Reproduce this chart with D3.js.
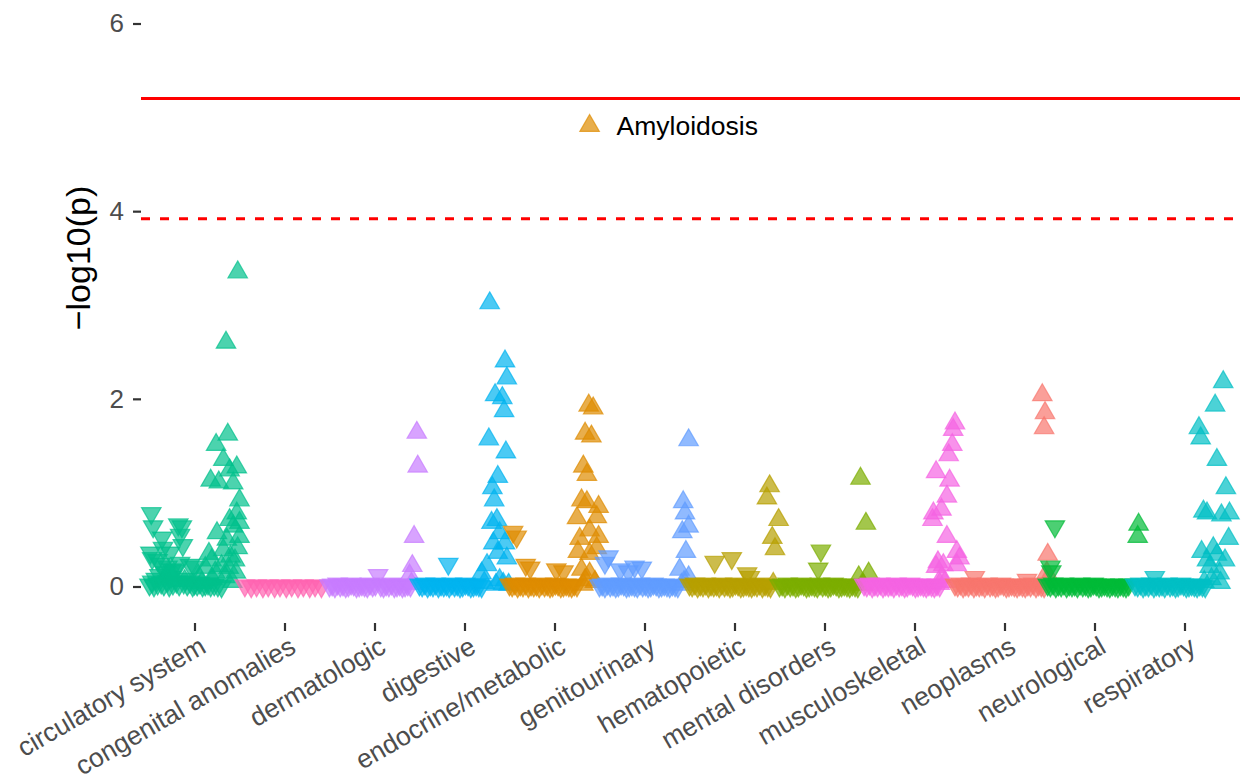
<!DOCTYPE html>
<html>
<head>
<meta charset="utf-8">
<script src="https://cdn.jsdelivr.net/npm/d3@7"></script>
<style>
  body { margin: 0; background: #ffffff; }
  svg { display: block; }
  text { font-family: "Liberation Sans", Arial, Helvetica, sans-serif; }
</style>
</head>
<body>
<svg id="chart" width="1244" height="781"></svg>
<script>
// Phenotype groups, in plotting order
const categories = [
  "circulatory system", "congenital anomalies", "dermatologic", "digestive",
  "endocrine/metabolic", "genitourinary", "hematopoietic", "mental disorders",
  "musculoskeletal", "neoplasms", "neurological", "respiratory"
];
const groupColors = [
  "#00C08B", "#FF64B0", "#C77CFF", "#00B4F0", "#DE8C00", "#619CFF",
  "#B79F00", "#7CAE00", "#F564E3", "#F8766D", "#00BA38", "#00BFC4"
];
const yTicks = [0, 2, 4, 6];

// Significance thresholds on the -log10(p) scale
const bonferroniLine = 5.2;
const suggestiveLine = 3.92;

// Phenotypes: [rank within group (0-100), -log10(p)]
// "Up" = positive association, "Down" = negative association
const circulatoryUp = [[22,0.15],[26,0.12],[39,0.06],[54,0.12],[58,0.04],[62,0.20],[66,0.35],[68,1.13],[69,0.28],[70,0.08],[73,0.15],[74,1.51],[75,0.57],[77,1.11],[80,0.22],[82,1.35],[82,0.39],[84,0.10],[85,2.60],[86,0.50],[87,1.62],[88,0.20],[89,1.24],[89,0.71],[90,0.32],[92,0.05],[93,1.10],[93,0.64],[95,0.28],[96,0.15],[97,1.27],[97,0.78],[98,3.35],[98,0.41],[100,0.92],[100,0.68],[100,0.53]];
const circulatoryDown = [[0,0.02],[1,0.36],[2,0.78],[3,0.30],[3,0.05],[4,0.64],[5,0.01],[7,0.08],[9,0.28],[9,0.03],[11,0.12],[12,0.24],[13,0.04],[14,0.52],[15,0.41],[16,0.02],[18,0.15],[20,0.21],[20,0.06],[22,0.01],[23,0.36],[24,0.10],[25,0.18],[26,0.03],[28,0.17],[30,0.05],[32,0.66],[33,0.02],[34,0.55],[34,0.25],[36,0.64],[37,0.44],[38,0.04],[40,0.08],[42,0.02],[45,0.23],[45,0.05],[48,0.01],[50,0.21],[50,0.03],[53,0.02],[56,0.04],[59,0.01],[62,0.02],[65,0.03],[68,0.01],[72,0.02],[76,0.01],[80,0.00]];

const congenitalUp = [];
const congenitalDown = [[6,0.01],[13,0.00],[19,0.01],[26,0.00],[32,0.01],[39,0.00],[45,0.01],[52,0.00],[58,0.01],[65,0.00],[71,0.01],[78,0.00],[84,0.01],[91,0.00]];

const dermatologicUp = [[89,0.12],[91,0.03],[92,0.22],[94,0.53],[97,1.64],[98,1.28]];
const dermatologicDown = [[0,0.01],[3,0.02],[6,0.00],[9,0.03],[12,0.01],[15,0.02],[18,0.00],[21,0.01],[24,0.03],[27,0.02],[30,0.00],[33,0.01],[36,0.02],[39,0.01],[42,0.00],[45,0.03],[48,0.01],[51,0.02],[54,0.12],[57,0.01],[60,0.00],[63,0.02],[66,0.01],[69,0.03],[72,0.00],[75,0.01],[78,0.02],[81,0.00],[84,0.01],[87,0.02],[90,0.01]];

const digestiveUp = [[69,0.14],[72,0.04],[75,0.23],[77,1.57],[78,3.02],[80,0.68],[81,1.05],[82,0.46],[83,0.92],[84,2.04],[85,0.02],[86,0.71],[87,1.17],[87,0.36],[89,0.57],[89,0.07],[92,2.01],[93,0.03],[94,1.87],[95,2.40],[95,0.46],[96,1.43],[97,2.22],[97,0.30],[99,0.02]];
const digestiveDown = [[0,0.02],[3,0.01],[6,0.03],[9,0.00],[12,0.02],[15,0.01],[18,0.03],[21,0.00],[24,0.02],[27,0.01],[30,0.02],[32,0.24],[33,0.00],[36,0.03],[39,0.01],[42,0.02],[45,0.00],[48,0.01],[51,0.03],[54,0.02],[57,0.00],[60,0.01],[63,0.02],[66,0.01],[69,0.00]];

const endocrineUp = [[75,0.73],[76,0.37],[78,0.51],[80,0.92],[80,0.18],[82,1.28],[82,0.02],[84,1.63],[84,0.07],[86,1.19],[86,0.90],[88,1.93],[89,0.60],[89,0.35],[89,0.14],[91,1.60],[93,1.90],[95,0.05],[97,0.74],[97,0.41],[99,0.85],[99,0.53]];
const endocrineDown = [[0,0.02],[3,0.01],[4,0.58],[6,0.03],[8,0.53],[9,0.00],[12,0.02],[15,0.01],[18,0.23],[18,0.03],[21,0.00],[23,0.20],[24,0.02],[27,0.01],[30,0.02],[33,0.00],[36,0.03],[39,0.01],[42,0.02],[45,0.00],[48,0.01],[51,0.03],[52,0.18],[54,0.02],[57,0.00],[60,0.16],[60,0.01],[63,0.02],[66,0.01],[69,0.00],[72,0.02],[75,0.01]];

const genitourinaryUp = [[89,0.18],[91,0.02],[92,0.58],[93,0.90],[94,0.05],[95,0.78],[96,0.37],[99,1.56],[99,0.64],[99,0.10]];
const genitourinaryDown = [[0,0.01],[3,0.02],[6,0.25],[6,0.00],[9,0.03],[10,0.32],[12,0.01],[15,0.02],[18,0.00],[21,0.01],[23,0.18],[24,0.03],[27,0.02],[30,0.00],[32,0.16],[33,0.01],[36,0.02],[39,0.21],[39,0.01],[42,0.00],[45,0.03],[47,0.20],[48,0.01],[51,0.02],[54,0.00],[57,0.01],[60,0.03],[63,0.02],[66,0.00],[69,0.01],[72,0.02],[75,0.01],[78,0.00],[81,0.02],[84,0.01],[87,0.00]];

const hematopoieticUp = [[86,0.94],[89,1.07],[92,0.52],[93,0.03],[95,0.40],[99,0.71]];
const hematopoieticDown = [[0,0.02],[3,0.01],[6,0.03],[9,0.00],[12,0.02],[15,0.01],[18,0.03],[21,0.00],[24,0.02],[27,0.01],[28,0.26],[30,0.02],[33,0.00],[36,0.03],[39,0.01],[42,0.02],[45,0.00],[47,0.30],[48,0.01],[51,0.03],[54,0.02],[57,0.00],[60,0.01],[63,0.02],[64,0.14],[66,0.01],[67,0.10],[69,0.00],[72,0.02],[75,0.01],[78,0.03],[81,0.00],[84,0.02],[87,0.01],[90,0.00]];

const mentalUp = [[88,0.10],[90,1.15],[93,0.02],[96,0.67],[99,0.14]];
const mentalDown = [[0,0.01],[3,0.02],[6,0.00],[9,0.03],[12,0.01],[15,0.02],[18,0.00],[21,0.01],[24,0.03],[27,0.02],[30,0.00],[33,0.01],[36,0.02],[39,0.01],[42,0.00],[43,0.19],[45,0.03],[46,0.38],[48,0.01],[51,0.02],[54,0.00],[57,0.01],[60,0.03],[63,0.02],[66,0.00],[69,0.01],[72,0.02],[75,0.01],[78,0.00],[81,0.02],[84,0.01],[87,0.00]];

const musculoskeletalUp = [[70,0.71],[71,0.78],[74,1.22],[74,0.21],[76,0.26],[78,0.03],[80,0.82],[80,0.10],[82,0.23],[84,0.05],[86,0.96],[86,0.53],[88,1.40],[89,1.13],[92,1.51],[93,1.67],[95,1.74],[97,0.37],[97,0.23],[100,0.30]];
const musculoskeletalDown = [[-6,0.02],[-3,0.01],[0,0.03],[3,0.00],[6,0.02],[9,0.01],[12,0.03],[15,0.00],[18,0.02],[21,0.01],[24,0.02],[27,0.00],[30,0.03],[33,0.01],[36,0.02],[39,0.00],[42,0.01],[45,0.03],[48,0.02],[51,0.00],[54,0.01],[57,0.02],[60,0.01],[63,0.00],[66,0.02],[69,0.01],[72,0.00],[75,0.02],[78,0.01]];

const neoplasmsUp = [[92,2.04],[94,1.69],[95,1.85],[96,0.05],[97,0.15],[98,0.34]];
const neoplasmsDown = [[-5,0.02],[-2,0.01],[1,0.03],[4,0.00],[7,0.02],[10,0.01],[13,0.03],[16,0.00],[17,0.10],[19,0.02],[22,0.01],[25,0.02],[28,0.00],[31,0.03],[34,0.01],[37,0.02],[40,0.00],[43,0.01],[46,0.03],[49,0.02],[52,0.00],[55,0.01],[58,0.02],[61,0.01],[64,0.00],[67,0.02],[70,0.01],[73,0.00],[75,0.07],[76,0.02],[79,0.01],[82,0.03],[85,0.00],[88,0.02],[91,0.01],[94,0.00]];

const neurologicalUp = [[98,0.53],[99,0.66]];
const neurologicalDown = [[-2,0.02],[1,0.21],[1,0.01],[2,0.16],[4,0.03],[6,0.64],[7,0.00],[10,0.02],[13,0.01],[16,0.03],[19,0.00],[22,0.02],[25,0.01],[28,0.02],[31,0.00],[34,0.03],[37,0.01],[40,0.02],[43,0.00],[46,0.01],[49,0.03],[52,0.02],[55,0.00],[58,0.01],[61,0.02],[64,0.01],[67,0.00],[70,0.02],[73,0.01],[76,0.00],[79,0.02],[82,0.01],[85,0.00],[88,0.02]];

const respiratoryUp = [[66,1.69],[68,1.58],[69,0.37],[71,0.80],[72,0.05],[75,0.78],[75,0.28],[78,0.21],[80,0.08],[82,0.41],[84,1.93],[86,1.35],[86,0.34],[89,0.14],[90,0.04],[91,0.76],[93,2.18],[95,0.28],[96,1.05],[99,0.51],[100,0.78]];
const respiratoryDown = [[-5,0.02],[-2,0.01],[1,0.03],[4,0.00],[7,0.02],[10,0.01],[13,0.03],[16,0.00],[17,0.10],[19,0.02],[22,0.01],[25,0.02],[28,0.00],[31,0.03],[34,0.01],[37,0.02],[40,0.00],[43,0.01],[46,0.03],[49,0.02],[52,0.00],[55,0.01],[58,0.02],[61,0.01],[64,0.00],[67,0.02],[70,0.01],[73,0.00]];

// Labelled phenotype
const annotatedGroup = "endocrine/metabolic";
const annotatedName = "Amyloidosis";
const annotatedRank = 89;
const annotatedValue = 4.91;

// Assemble the per-group table
const upSets = [circulatoryUp, congenitalUp, dermatologicUp, digestiveUp, endocrineUp, genitourinaryUp,
  hematopoieticUp, mentalUp, musculoskeletalUp, neoplasmsUp, neurologicalUp, respiratoryUp];
const downSets = [circulatoryDown, congenitalDown, dermatologicDown, digestiveDown, endocrineDown, genitourinaryDown,
  hematopoieticDown, mentalDown, musculoskeletalDown, neoplasmsDown, neurologicalDown, respiratoryDown];

const points = [];
categories.forEach((name, gi) => {
  downSets[gi].forEach(([rank, v]) => points.push({ gi, rank, v, dir: -1 }));
  upSets[gi].forEach(([rank, v]) => points.push({ gi, rank, v, dir: 1 }));
});
const annotatedIndex = categories.indexOf(annotatedGroup);
points.push({ gi: annotatedIndex, rank: annotatedRank, v: annotatedValue, dir: 1, label: annotatedName });

// Layout
const panel = { left: 141, right: 1240, top: 0, bottom: 622 };
const svg = d3.select("#chart");

const x = d3.scaleLinear().domain([0, categories.length]).range([149.5, 1229.5]);
const y = d3.scaleLinear().domain([0, 6]).range([586.5, 23.5]);
const px = d => x(d.gi + d.rank / 100);

const alpha = (c, a) => { const k = d3.color(c); k.opacity = a; return k.formatRgb(); };

// Threshold lines
svg.append("line")
  .attr("x1", panel.left).attr("x2", panel.right)
  .attr("y1", y(bonferroniLine)).attr("y2", y(bonferroniLine))
  .attr("stroke", "#FF0000").attr("stroke-width", 3);
svg.append("line")
  .attr("x1", panel.left).attr("x2", panel.right)
  .attr("y1", y(suggestiveLine)).attr("y2", y(suggestiveLine))
  .attr("stroke", "#FF0000").attr("stroke-width", 3)
  .attr("stroke-dasharray", "9,10");

// Points: up triangle = positive, down triangle = negative direction
const tri = d3.symbol().type(d3.symbolTriangle).size(165);
svg.append("g").selectAll("path")
  .data(points)
  .join("path")
  .attr("d", tri)
  .attr("transform", d => `translate(${px(d)},${y(d.v)}) rotate(${d.dir > 0 ? 0 : 180})`)
  .attr("fill", d => alpha(groupColors[d.gi], 0.7))
  .attr("stroke", d => alpha(groupColors[d.gi], 0.7))
  .attr("stroke-width", 1.2);

// Point annotation
svg.append("g").selectAll("text")
  .data(points.filter(d => d.label))
  .join("text")
  .attr("x", d => px(d) + 27)
  .attr("y", d => y(d.v))
  .attr("dy", "0.36em")
  .attr("font-size", 26.5)
  .attr("fill", "#000000")
  .text(d => d.label);

// Y axis
const yAxis = svg.append("g")
  .attr("transform", `translate(${panel.left},0)`)
  .call(d3.axisLeft(y).tickValues(yTicks).tickFormat(d3.format("d")).tickSize(8).tickPadding(9));
yAxis.select(".domain").remove();
yAxis.selectAll(".tick line").attr("stroke", "#333333").attr("stroke-width", 2.2);
yAxis.selectAll(".tick text")
  .attr("font-size", 26).attr("fill", "#4D4D4D")
  .attr("font-family", "\"Liberation Sans\", Arial, sans-serif");

// X axis with group labels
const xAxis = svg.append("g")
  .attr("transform", `translate(0,${panel.bottom + 1})`)
  .call(d3.axisBottom(x)
    .tickValues(categories.map((_, i) => i + 0.5))
    .tickFormat((_, i) => categories[i])
    .tickSize(8).tickPadding(6));
xAxis.select(".domain").remove();
xAxis.selectAll(".tick line").attr("stroke", "#333333").attr("stroke-width", 2.2);
xAxis.selectAll(".tick text")
  .attr("font-size", 26.5).attr("fill", "#4D4D4D")
  .attr("font-family", "\"Liberation Sans\", Arial, sans-serif")
  .attr("text-anchor", "end")
  .attr("y", 0).attr("dy", "0.72em")
  .attr("transform", "translate(3,12) rotate(-30)");

// Y axis title
svg.append("text")
  .attr("transform", `translate(${78},${258}) rotate(-90)`)
  .attr("text-anchor", "middle")
  .attr("dy", "0.35em")
  .attr("font-size", 34)
  .attr("fill", "#000000")
  .text("\u2212log10(p)");
</script>
</body>
</html>
